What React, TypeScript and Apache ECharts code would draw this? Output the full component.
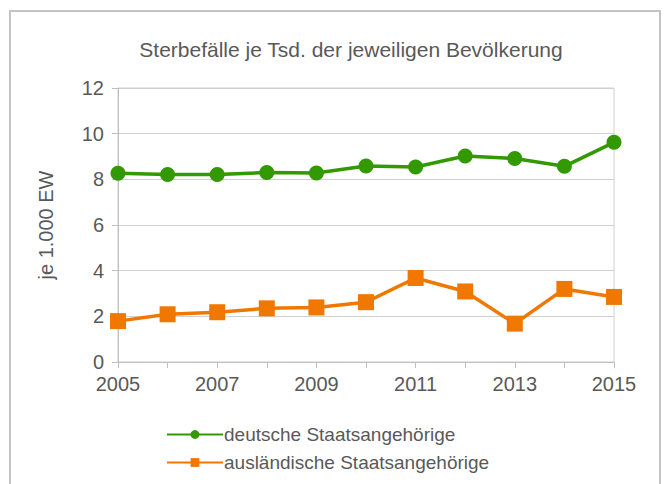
import React, { useEffect, useRef } from "react";
import * as echarts from "echarts";

const years = ["2005", "2006", "2007", "2008", "2009", "2010", "2011", "2012", "2013", "2014", "2015"];
const deutsche = [8.27, 8.21, 8.21, 8.3, 8.28, 8.58, 8.54, 9.02, 8.91, 8.57, 9.62];
const auslaendische = [1.79, 2.09, 2.18, 2.35, 2.39, 2.62, 3.68, 3.09, 1.68, 3.2, 2.85];
const seriesNames = ["deutsche Staatsangehörige", "ausländische Staatsangehörige"];
const titleText = "Sterbefälle je Tsd. der jeweiligen Bevölkerung";
const yAxisName = "je 1.000 EW";

const GREEN = "#339900";
const ORANGE = "#f07800";
const TEXT = "#595959";
const FONT = "Liberation Sans";

export default function App() {
  const ref = useRef<HTMLDivElement>(null);
  useEffect(() => {
    if (!ref.current) return;
    const chart = echarts.init(ref.current, null, { renderer: "svg" });
    chart.setOption({
      animation: false,
      backgroundColor: "#ffffff",
      textStyle: { fontFamily: FONT },
      graphic: [
        {
          type: "rect",
          shape: { x: 10, y: 11, width: 650, height: 500 },
          style: { fill: "none", stroke: "#c4c4c4", lineWidth: 2 },
          silent: true,
        },
      ],
      title: {
        text: titleText,
        left: 346,
        textAlign: "center",
        top: 34,
        textStyle: { color: TEXT, fontSize: 21, fontWeight: "normal", fontFamily: FONT },
      },
      grid: {
        left: 118,
        right: 54,
        top: 88,
        bottom: 122,
        show: true,
        borderColor: "#d0d0d0",
        borderWidth: 1,
      },
      legend: {
        orient: "vertical",
        left: 161,
        top: 420,
        itemWidth: 56,
        itemHeight: 11,
        itemGap: 9,
        textStyle: { color: TEXT, fontSize: 19, fontFamily: FONT, padding: [0, 0, 0, -4] },
        data: seriesNames,
      },
      xAxis: {
        type: "category",
        data: years,
        boundaryGap: false,
        axisLine: { lineStyle: { color: "#bfbfbf", width: 1 } },
        axisTick: { show: true, interval: 0, length: 6, lineStyle: { color: "#bfbfbf" } },
        axisLabel: { interval: 1, color: TEXT, fontSize: 20, margin: 12, fontFamily: FONT },
        splitLine: { show: false },
      },
      yAxis: {
        type: "value",
        min: 0,
        max: 12,
        interval: 2,
        name: yAxisName,
        nameLocation: "middle",
        nameRotate: 90,
        nameGap: 62,
        nameTextStyle: { color: TEXT, fontSize: 20, fontFamily: FONT },
        axisLine: { show: true, lineStyle: { color: "#bfbfbf", width: 1 } },
        axisTick: { show: true, length: 6, lineStyle: { color: "#bfbfbf" } },
        axisLabel: { color: TEXT, fontSize: 20, margin: 14, fontFamily: FONT },
        splitLine: { lineStyle: { color: "#d0d0d0", width: 1 } },
      },
      series: [
        {
          name: seriesNames[0],
          type: "line",
          data: deutsche,
          symbol: "circle",
          symbolSize: 15,
          lineStyle: { color: GREEN, width: 3.5 },
          itemStyle: { color: GREEN },
        },
        {
          name: seriesNames[1],
          type: "line",
          data: auslaendische,
          symbol: "rect",
          symbolSize: 16,
          lineStyle: { color: ORANGE, width: 3.5 },
          itemStyle: { color: ORANGE },
        },
      ],
    });
    return () => chart.dispose();
  }, []);
  return (
    <div
      ref={ref}
      style={{ position: "fixed", left: 0, top: 0, width: 668, height: 484 }}
    />
  );
}
